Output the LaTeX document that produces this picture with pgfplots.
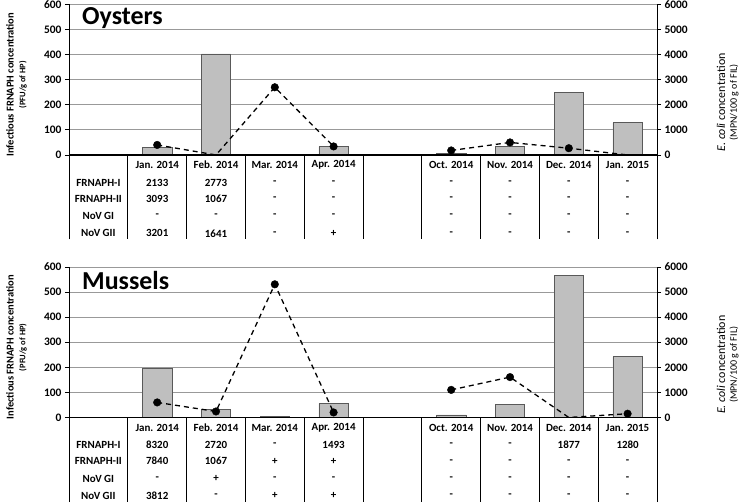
\documentclass[border=0pt]{standalone}
\usepackage{pgfplots}
\pgfplotsset{compat=1.18}
\usepackage{fontspec}
\setmainfont{Carlito}

% bars: left axis, PFU/g of HP ; line: right axis, MPN/100 g of FIL
% slot 0 = row labels, 1-4 = Jan.-Apr. 2014, 5 = gap, 6-9 = Oct. 2014-Jan. 2015
\tikzset{tab/.style={font=\bfseries\fontsize{11}{13}\selectfont}}
\pgfplotsset{
  panel/.style={scale only axis, width=588bp, height=235bp,
    xmin=-0.5, xmax=9.5, hide x axis, clip=false,
    axis line style={-, black, line width=0.8pt},
    tick align=outside, major tick length=4bp,
    tick style={black, line width=0.8pt},
    /pgf/number format/assume math mode=true,
    /pgf/number format/1000 sep={},
    yticklabel style={font=\bfseries\fontsize{11.5}{13}\selectfont}},
  left panel/.style={panel, ymin=-337, ymax=600, ytick={0,100,...,600},
    axis y line*=left, ymajorgrids,
    grid style={black!40, line width=0.8pt}},
  right panel/.style={panel, ymin=-3370, ymax=6000,
    ytick={0,1000,...,6000}, axis y line*=right, unbounded coords=jump},
  barstyle/.style={ybar, bar width=0.5, fill=black!25, draw=black!65,
    line width=0.8pt},
  linestyle/.style={black, line width=1.3pt, dash pattern=on 5bp off 4bp,
    no marks},
  markstyle/.style={only marks, mark=*, mark size=3.8bp, black},
}

\newcommand\cells[9]{%
  \node[tab] at (axis cs:1,#1) {#2};
  \node[tab] at (axis cs:2,#1) {#3};
  \node[tab] at (axis cs:3,#1) {#4};
  \node[tab] at (axis cs:4,#1) {#5};
  \node[tab] at (axis cs:6,#1) {#6};
  \node[tab] at (axis cs:7,#1) {#7};
  \node[tab] at (axis cs:8,#1) {#8};
  \node[tab] at (axis cs:9,#1) {#9};
}
\newcommand\tablegrid{%
  \draw[black, line width=1.2pt] (axis cs:-0.5,0) -- (axis cs:9.5,0);
  \pgfplotsinvokeforeach{0.5,1.5,2.5,3.5,4.5,5.5,6.5,7.5,8.5}{
    \draw[black, line width=0.8pt] (axis cs:##1,0) -- (axis cs:##1,-337);}
}
\newcommand\leftlabel{%
  \node[rotate=90, font=\bfseries\fontsize{10.5}{12}\selectfont]
    at ([xshift=-59bp]axis cs:-0.5,280) {Infectious FRNAPH concentration};
  \node[rotate=90, font=\bfseries\fontsize{8.5}{10}\selectfont]
    at ([xshift=-46bp]axis cs:-0.5,280) {(PFU/g of HP)};
}
\newcommand\rightlabel{%
  \node[rotate=90, font=\fontsize{12}{14}\selectfont]
    at ([xshift=64bp]axis cs:9.5,2100) {\textit{E. coli} concentration};
  \node[rotate=90, font=\fontsize{10}{12}\selectfont]
    at ([xshift=77bp]axis cs:9.5,2100) {(MPN/100 g of FIL)};
}
\newcommand\rowlabels{%
  \node[tab] at (axis cs:0,-109.6) {FRNAPH-I};
  \node[tab] at (axis cs:0,-174.5) {FRNAPH-II};
  \node[tab] at (axis cs:0,-243.8) {NoV GI};
  \node[tab] at (axis cs:0,-312.7) {NoV GII};
  \cells{-40.6}{Jan. 2014}{Feb. 2014}{Mar. 2014}{Apr. 2014}{Oct. 2014}{Nov. 2014}{Dec. 2014}{Jan. 2015}
}

\begin{document}
\begin{tikzpicture}
\useasboundingbox (0,0) rectangle (740bp,504bp);

% ---------------- Oysters ----------------
\begin{axis}[left panel, at={(69bp,264.5bp)}, anchor=south west]
\addplot[barstyle] coordinates
  {(1,31) (2,403) (3,3) (4,33) (6,5) (7,34) (8,248) (9,128)};
\tablegrid
\rowlabels
\cells{-109.6}{2133}{2773}{-}{-}{-}{-}{-}{-}
\cells{-174.5}{3093}{1067}{-}{-}{-}{-}{-}{-}
\cells{-243.8}{-}{-}{-}{-}{-}{-}{-}{-}
\cells{-312.7}{3201}{1641}{-}{+}{-}{-}{-}{-}
\node[anchor=base west, inner sep=0pt, font=\bfseries\fontsize{26}{30}\selectfont]
  at ([xshift=13bp]axis cs:-0.5,520) {Oysters};
\leftlabel
\end{axis}
\begin{axis}[right panel, at={(69bp,264.5bp)}, anchor=south west]
\addplot[linestyle] coordinates
  {(1,400) (2,0) (3,2700) (4,340) (5,nan) (6,180) (7,500) (8,270) (9,0)};
\addplot[markstyle] coordinates
  {(1,400) (3,2700) (4,340) (6,180) (7,500) (8,270)};
\rightlabel
\end{axis}

% ---------------- Mussels ----------------
\begin{axis}[left panel, at={(69bp,2bp)}, anchor=south west]
\addplot[barstyle] coordinates
  {(1,194) (2,33) (3,5) (4,55) (6,10) (7,53) (8,568) (9,242)};
\tablegrid
\rowlabels
\cells{-109.6}{8320}{2720}{-}{1493}{-}{-}{1877}{1280}
\cells{-174.5}{7840}{1067}{+}{+}{-}{-}{-}{-}
\cells{-243.8}{-}{+}{-}{-}{-}{-}{-}{-}
\cells{-312.7}{3812}{-}{+}{+}{-}{-}{-}{-}
\node[anchor=base west, inner sep=0pt, font=\bfseries\fontsize{26}{30}\selectfont]
  at ([xshift=13bp]axis cs:-0.5,509) {Mussels};
\leftlabel
\end{axis}
\begin{axis}[right panel, at={(69bp,2bp)}, anchor=south west]
\addplot[linestyle] coordinates
  {(1,600) (2,240) (3,5310) (4,200) (5,nan) (6,1100) (7,1610) (8,0) (9,150)};
\addplot[markstyle] coordinates
  {(1,600) (2,240) (3,5310) (4,200) (6,1100) (7,1610) (9,150)};
\rightlabel
\end{axis}
\end{tikzpicture}
\end{document}
